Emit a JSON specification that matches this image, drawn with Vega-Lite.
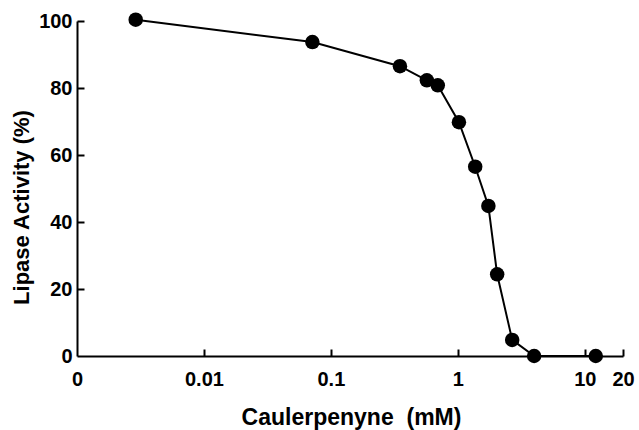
{
  "$schema": "https://vega.github.io/schema/vega-lite/v6.json",
  "width": 546,
  "height": 335,
  "autosize": "none",
  "padding": {"left": 77, "top": 21, "right": 16, "bottom": 74},
  "background": "white",
  "config": {
    "view": {"stroke": null},
    "font": "Liberation Sans"
  },
  "data": {
    "values": [
      {"conc": 0.0029, "activity": 100.4},
      {"conc": 0.0715, "activity": 93.7},
      {"conc": 0.35, "activity": 86.5},
      {"conc": 0.57, "activity": 82.3},
      {"conc": 0.695, "activity": 80.8},
      {"conc": 1.02, "activity": 69.8},
      {"conc": 1.37, "activity": 56.5},
      {"conc": 1.74, "activity": 44.8},
      {"conc": 2.04, "activity": 24.4},
      {"conc": 2.68, "activity": 4.8},
      {"conc": 3.99, "activity": 0},
      {"conc": 12.2, "activity": 0}
    ]
  },
  "resolve": {"axis": {"x": "independent", "y": "independent"}},
  "layer": [
    {
      "mark": {"type": "line", "color": "black", "strokeWidth": 2},
      "encoding": {
        "x": {
          "field": "conc",
          "type": "quantitative",
          "scale": {"type": "log", "domain": [0.001, 20], "nice": false, "zero": false},
          "axis": {
            "title": "Caulerpenyne\u00a0\u00a0(mM)",
            "values": [0.001, 0.01, 0.1, 1, 10, 20],
            "labelExpr": "datum.value < 0.005 ? '0' : format(datum.value, '~g')",
            "grid": false,
            "ticks": false,
            "domainColor": "black",
            "domainWidth": 2,
            "labelPadding": 13,
            "labelFont": "Liberation Sans",
            "labelFontWeight": "bold",
            "labelFontSize": 20,
            "labelColor": "black",
            "labelFlush": false,
            "labelOverlap": false,
            "labelBound": false,
            "titleFont": "Liberation Sans",
            "titleFontWeight": "bold",
            "titleFontSize": 23,
            "titleColor": "black",
            "titleX": 274,
            "titleY": 68,
            "titleAlign": "center",
            "titleBaseline": "alphabetic"
          }
        },
        "y": {
          "field": "activity",
          "type": "quantitative",
          "scale": {"domain": [0, 100], "nice": false, "zero": true},
          "axis": {
            "title": "Lipase Activity (%)",
            "values": [0, 20, 40, 60, 80, 100],
            "grid": false,
            "ticks": false,
            "domainColor": "black",
            "domainWidth": 2,
            "labelPadding": 5,
            "labelFont": "Liberation Sans",
            "labelFontWeight": "bold",
            "labelFontSize": 20,
            "labelColor": "black",
            "labelFlush": false,
            "labelOverlap": false,
            "labelBound": false,
            "titleFont": "Liberation Sans",
            "titleFontWeight": "bold",
            "titleFontSize": 22,
            "titleColor": "black",
            "titleX": -49,
            "titleY": 186,
            "titleAngle": -90,
            "titleAlign": "center",
            "titleBaseline": "alphabetic"
          }
        }
      }
    },
    {
      "mark": {"type": "point", "filled": true, "color": "black", "opacity": 1, "size": 210},
      "encoding": {
        "x": {
          "field": "conc",
          "type": "quantitative",
          "scale": {"type": "log", "domain": [0.001, 20], "nice": false, "zero": false},
          "axis": {
            "orient": "top",
            "offset": -335,
            "title": null,
            "values": [0.01, 0.1, 1, 10, 20],
            "domain": false,
            "labels": false,
            "grid": false,
            "ticks": true,
            "tickSize": 7,
            "tickWidth": 2,
            "tickColor": "black"
          }
        },
        "y": {
          "field": "activity",
          "type": "quantitative",
          "scale": {"domain": [0, 100], "nice": false, "zero": true},
          "axis": {
            "orient": "right",
            "offset": -546,
            "title": null,
            "values": [20, 40, 60, 80, 100],
            "domain": false,
            "labels": false,
            "grid": false,
            "ticks": true,
            "tickSize": 7,
            "tickWidth": 2,
            "tickColor": "black"
          }
        }
      }
    }
  ]
}
